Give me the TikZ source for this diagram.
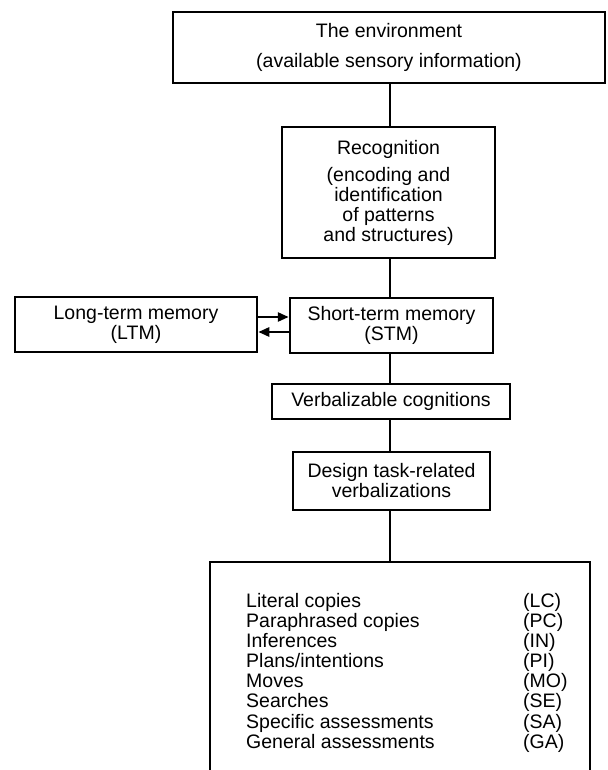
\documentclass[tikz,border=0pt]{standalone}
\usepackage{fontspec}
\setmainfont{Liberation Sans}
\usetikzlibrary{arrows.meta}
\begin{document}
\begin{tikzpicture}[x=1pt,y=-1pt,
  box/.style={draw, line width=2.5pt, inner sep=0pt, align=center,
              font=\fontsize{19.5}{20}\selectfont},
  conn/.style={line width=2.5pt},
  arr/.style={line width=2.5pt,-{Triangle[length=11pt,width=9pt]}}]
\useasboundingbox (0,0) rectangle (607,770);
\fill[white] (0,0) rectangle (607,770);
\clip (0,0) rectangle (607,770);

\node[box, minimum width=432pt, minimum height=71pt] (env) at (389,47.5)
  {The environment\\[10pt](available sensory information)};
\node[box, minimum width=213pt, minimum height=131pt] (rec) at (388.5,192.5)
  {Recognition\\[7pt](encoding and\\identification\\of patterns\\and structures)};
\node[box, minimum width=203pt, minimum height=55pt] (stm) at (391.5,325.5)
  {Short-term memory\\(STM)};
\node[box, minimum width=242pt, minimum height=55pt] (ltm) at (136,324.5)
  {Long-term memory\\(LTM)};
\node[box, minimum width=238pt, minimum height=35pt] (verb) at (391,401.5)
  {Verbalizable cognitions};
\node[box, minimum width=197pt, minimum height=58pt] (design) at (391.5,481)
  {Design task-related\\verbalizations};
\node[box, minimum width=380pt, minimum height=228pt] (cat) at (400,676) {};

\node[anchor=north west, inner sep=0pt, font=\fontsize{19.5}{20}\selectfont] (list) at (246,593)
  {\begin{tabular}{@{}p{277pt}@{}l@{}}
   Literal copies & (LC)\\
   Paraphrased copies & (PC)\\
   Inferences & (IN)\\
   Plans/intentions & (PI)\\
   Moves & (MO)\\
   Searches & (SE)\\
   Specific assessments & (SA)\\
   General assessments & (GA)
   \end{tabular}};

\coordinate (col) at (390,0);
\draw[conn] (env.south -| col) -- (rec.north -| col);
\draw[conn] (rec.south -| col) -- (stm.north -| col);
\draw[conn] (stm.south -| col) -- (verb.north -| col);
\draw[conn] (verb.south -| col) -- (design.north -| col);
\draw[conn] (design.south -| col) -- (cat.north -| col);

\coordinate (a1) at (0,317);
\coordinate (a2) at (0,332);
\draw[arr] (ltm.east |- a1) -- (stm.west |- a1);
\draw[arr] (stm.west |- a2) -- (ltm.east |- a2);
\end{tikzpicture}
\end{document}
